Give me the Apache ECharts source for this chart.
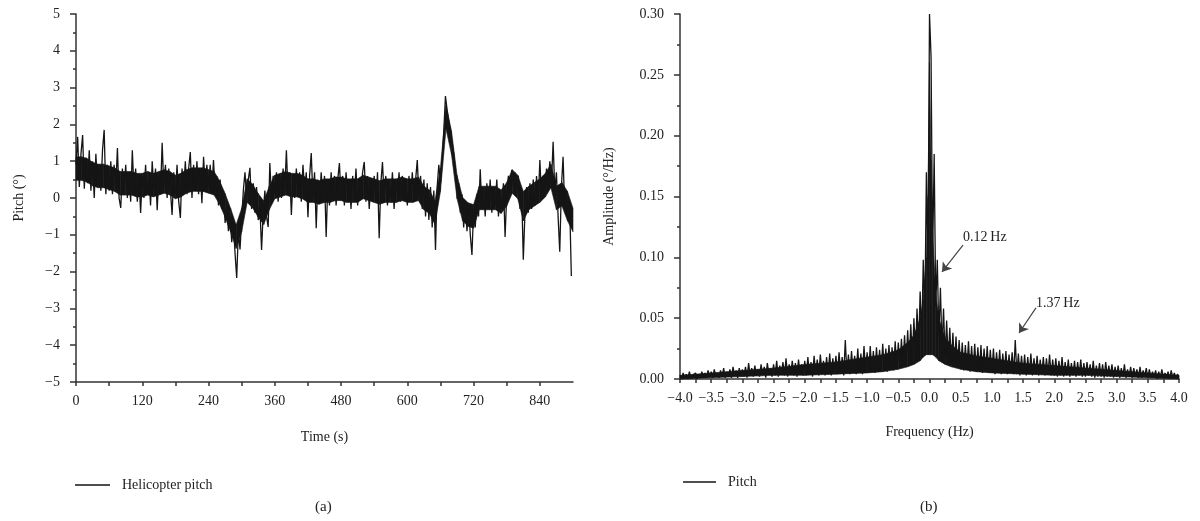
<!DOCTYPE html>
<html>
<head>
<meta charset="utf-8">
<script src="https://cdn.jsdelivr.net/npm/echarts@6/dist/echarts.min.js"></script>
<style>
html,body{margin:0;padding:0;background:#fff;}
#chart{width:1200px;height:521px;}
</style>
</head>
<body>
<div id="chart"></div>
<script>
// ---- Panel (a): helicopter pitch time history, one sample every 3 s ----
const pitchStep = 3; // seconds between samples
const pitchValues = [
  0.9, 1.66, 0.3, 1.2, 1.71, 0.25, 1.1, 0.4, 1.3, 0.2, 1.0, 0.0, 1.2, 0.3, 0.9, 0.2, 1.3, 1.85, 0.1, 0.9,
  0.2, 1.0, 0.1, 0.9, 0.3, 1.36, 0.0, -0.27, 0.8, 0.1, 0.9, 0.0, 0.7, -0.1, 1.30, 0.2, 0.8, -0.1, 0.6, -0.41,
  0.6, 0.0, 0.9, 0.1, 0.7, -0.2, 1.0, 0.2, 0.8, -0.33, 0.6, 0.1, 1.5, 0.3, 0.9, 0.0, 0.8, 0.2, -0.46, 0.7,
  0.1, 0.9, -0.1, -0.54, 0.8, 0.2, 1.0, 0.1, 0.8, 1.25, 0.0, 0.9, 0.2, 1.0, 0.1, 0.8, -0.14, 1.12, 0.3, 0.9,
  0.3, 0.9, 0.2, 1.03, 0.1, 0.6, -0.2, 0.5, -0.3, 0.2, -0.68, -0.2, -0.9, -0.5, -1.2, -0.7, -1.5, -2.17, -0.9, -1.4,
  -0.6, 0.2, 0.7, 0.0, 0.5, 0.82, -0.3, 0.4, -0.4, 0.3, -0.6, -0.2, -1.41, -0.4, 0.2, -0.5, -0.79, 0.95, 0.0, 0.6,
  0.1, 0.7, -0.1, 0.6, 0.0, 0.8, 0.2, 1.30, 0.1, 0.7, -0.46, 0.6, 0.0, 0.8, 0.1, 0.7, -0.1, 0.9, 0.2, 0.7,
  -0.52, 0.6, 1.22, 0.0, 0.7, -0.82, 0.5, -0.1, 0.7, 0.0, 0.6, -1.06, 0.4, -0.2, 0.7, 0.0, 0.6, -0.2, 0.5, 0.95,
  0.0, 0.6, -0.2, 0.7, 0.1, 0.5, -0.3, 0.6, 0.0, 0.8, -0.2, 0.5, 0.1, 0.7, 0.98, -0.1, 0.6, -0.3, 0.5, 0.0,
  0.6, -0.1, 0.7, -1.09, 0.4, 0.98, 0.0, 0.6, -0.2, 0.5, 0.0, 0.7, -0.3, 0.5, 0.1, 0.7, -0.1, 0.6, 0.0, 0.5,
  -0.2, 0.6, 0.0, 0.7, -0.1, 0.5, 1.03, 0.0, 0.6, -0.3, 0.5, -0.5, 0.4, -0.6, 0.3, -0.8, 0.2, -1.41, 0.3, 0.9,
  0.4, 1.03, 1.8, 2.77, 2.4, 2.1, 1.8, 1.5, 1.2, 0.7, 0.2, 0.4, -0.4, 0.1, -0.8, -0.1, -0.9, -0.2, -1.0, -1.55,
  -0.3, -0.8, 0.1, -0.5, 0.78, -0.3, 0.3, -0.5, 0.4, -0.2, 0.5, -0.4, 0.3, -0.2, 0.5, -0.5, 0.2, -0.3, 0.4, -1.06,
  0.1, 0.6, 0.2, 0.76, 0.3, 0.7, 0.1, 0.6, -0.3, 0.2, -1.68, -0.4, 0.3, -0.4, 0.4, -0.3, 0.5, -0.2, 0.6, -0.1,
  1.03, 0.0, 0.6, 0.1, 0.8, 0.3, 1.0, 0.4, 1.53, 0.2, 0.7, -0.5, -1.46, 0.3, 1.12, -0.3, 0.2, -0.6, -0.2, -2.12
];
// dense core of the pitch trace (lower / upper edge of the solid band), every 10 s
const pitchBandStep = 10;
const pitchBandLow = [
  0.48, 0.48, 0.43, 0.33, 0.28, 0.28, 0.23, 0.18, 0.08, 0.08,
  0.08, 0.03, 0.03, 0.08, 0.03, 0.08, 0.13, 0.08, -0.02, 0.03,
  0.13, 0.18, 0.18, 0.18, 0.13, 0.08, -0.17, -0.52, -0.92, -1.37,
  -0.92, -0.12, -0.27, -0.52, -0.72, -0.32, -0.02, 0.03, 0.08, 0.03,
  0.03, -0.02, -0.12, -0.12, -0.17, -0.12, -0.12, -0.07, -0.07, -0.12,
  -0.12, -0.12, -0.02, -0.07, -0.12, -0.17, -0.12, -0.12, -0.12, -0.07,
  -0.12, -0.12, -0.07, -0.32, -0.42, -0.72, 0.18, 1.88, 1.18, -0.02,
  -0.62, -0.77, -0.82, -0.32, -0.32, -0.32, -0.32, -0.42, -0.22, 0.13,
  -0.02, -0.62, -0.32, -0.22, -0.12, 0.03, 0.28, -0.32, -0.22, -0.62, -0.92
];
const pitchBandHigh = [
  1.12, 1.12, 1.07, 0.97, 0.92, 0.92, 0.87, 0.82, 0.72, 0.72,
  0.72, 0.67, 0.67, 0.72, 0.67, 0.72, 0.77, 0.72, 0.62, 0.67,
  0.77, 0.82, 0.82, 0.82, 0.77, 0.72, 0.47, 0.12, -0.28, -0.73,
  -0.28, 0.52, 0.37, 0.12, -0.08, 0.32, 0.62, 0.67, 0.72, 0.67,
  0.67, 0.62, 0.52, 0.52, 0.47, 0.52, 0.52, 0.57, 0.57, 0.52,
  0.52, 0.52, 0.62, 0.57, 0.52, 0.47, 0.52, 0.52, 0.52, 0.57,
  0.52, 0.52, 0.57, 0.32, 0.22, -0.08, 0.82, 2.52, 1.82, 0.62,
  0.02, -0.13, -0.18, 0.32, 0.32, 0.32, 0.32, 0.22, 0.42, 0.77,
  0.62, 0.18, 0.32, 0.42, 0.52, 0.67, 0.92, 0.32, 0.42, 0.18, -0.28
];

// ---- Panel (b): amplitude spectrum, one sample every 0.025 Hz from -4 Hz ----
const freqStart = -4.0;
const freqStep = 0.025;
const ampValues = [
  0.003, 0.000, 0.005, 0.001, 0.004, 0.000, 0.006, 0.001, 0.003, 0.002, 0.005, 0.000, 0.004, 0.001, 0.006, 0.002, 0.005, 0.001, 0.007, 0.002,
  0.006, 0.001, 0.008, 0.002, 0.005, 0.001, 0.007, 0.002, 0.009, 0.001, 0.006, 0.002, 0.008, 0.001, 0.010, 0.003, 0.007, 0.001, 0.009, 0.002,
  0.008, 0.002, 0.010, 0.001, 0.013, 0.003, 0.009, 0.002, 0.011, 0.003, 0.008, 0.002, 0.012, 0.003, 0.010, 0.001, 0.013, 0.004, 0.009, 0.002,
  0.012, 0.003, 0.015, 0.002, 0.011, 0.004, 0.014, 0.003, 0.017, 0.002, 0.012, 0.004, 0.015, 0.003, 0.013, 0.002, 0.016, 0.004, 0.012, 0.003,
  0.015, 0.003, 0.018, 0.004, 0.014, 0.002, 0.019, 0.004, 0.016, 0.003, 0.020, 0.005, 0.015, 0.003, 0.018, 0.004, 0.021, 0.003, 0.017, 0.005,
  0.019, 0.004, 0.022, 0.005, 0.018, 0.003, 0.032, 0.005, 0.020, 0.004, 0.023, 0.006, 0.019, 0.004, 0.025, 0.005, 0.021, 0.004, 0.027, 0.006,
  0.022, 0.005, 0.027, 0.006, 0.023, 0.005, 0.026, 0.007, 0.024, 0.006, 0.029, 0.007, 0.025, 0.006, 0.028, 0.008, 0.026, 0.007, 0.031, 0.008,
  0.030, 0.009, 0.033, 0.010, 0.036, 0.012, 0.040, 0.014, 0.045, 0.016, 0.050, 0.020, 0.058, 0.025, 0.072, 0.032, 0.098, 0.050, 0.170, 0.085,
  0.300, 0.265, 0.100, 0.185, 0.060, 0.098, 0.035, 0.075, 0.025, 0.058, 0.018, 0.048, 0.015, 0.042, 0.012, 0.038, 0.010, 0.035, 0.009, 0.032,
  0.008, 0.030, 0.007, 0.028, 0.008, 0.031, 0.006, 0.027, 0.007, 0.029, 0.006, 0.026, 0.007, 0.028, 0.005, 0.025, 0.006, 0.027, 0.005, 0.024,
  0.005, 0.025, 0.004, 0.022, 0.005, 0.024, 0.004, 0.021, 0.005, 0.023, 0.004, 0.020, 0.005, 0.022, 0.004, 0.032, 0.004, 0.021, 0.003, 0.019,
  0.004, 0.020, 0.003, 0.018, 0.004, 0.021, 0.003, 0.017, 0.004, 0.019, 0.003, 0.016, 0.004, 0.018, 0.003, 0.017, 0.004, 0.020, 0.003, 0.016,
  0.003, 0.017, 0.002, 0.015, 0.003, 0.018, 0.002, 0.014, 0.003, 0.016, 0.002, 0.013, 0.003, 0.015, 0.002, 0.014, 0.003, 0.016, 0.002, 0.013,
  0.002, 0.014, 0.003, 0.012, 0.002, 0.015, 0.001, 0.011, 0.002, 0.013, 0.002, 0.012, 0.001, 0.014, 0.002, 0.011, 0.002, 0.012, 0.001, 0.010,
  0.002, 0.011, 0.001, 0.009, 0.002, 0.012, 0.001, 0.008, 0.002, 0.010, 0.001, 0.009, 0.002, 0.008, 0.001, 0.010, 0.001, 0.007, 0.002, 0.009,
  0.001, 0.008, 0.001, 0.006, 0.002, 0.007, 0.000, 0.006, 0.001, 0.008, 0.001, 0.005, 0.002, 0.006, 0.000, 0.007, 0.001, 0.005, 0.001, 0.004,
  0.002
];
// dense core of the spectrum (lower / upper edge of the solid band)
const ampBandFreqs = [
  -4, -3.5, -3, -2.5, -2, -1.5, -1, -0.75, -0.5, -0.35, -0.25, -0.15, -0.1, -0.05, -0.025,
  0, 0.025, 0.05, 0.1, 0.15, 0.25, 0.35, 0.5, 0.75, 1, 1.5, 2, 2.5, 3, 3.5, 4
];
const ampBandLow = [
  0.000, 0.001, 0.002, 0.003, 0.003, 0.004, 0.005, 0.006, 0.008, 0.010, 0.012, 0.015, 0.018, 0.020, 0.020,
  0.020, 0.020, 0.020, 0.018, 0.015, 0.012, 0.010, 0.008, 0.006, 0.005, 0.004, 0.003, 0.003, 0.002, 0.001, 0.000
];
const ampBandHigh = [
  0.003, 0.005, 0.007, 0.009, 0.012, 0.014, 0.018, 0.020, 0.024, 0.030, 0.036, 0.050, 0.065, 0.100, 0.150,
  0.260, 0.180, 0.120, 0.070, 0.050, 0.034, 0.028, 0.022, 0.019, 0.017, 0.013, 0.011, 0.009, 0.007, 0.005, 0.003
];

// annotation labels and arrows on panel (b) (data coordinates: Hz, °/Hz)
const annoLabels = [
  { text: '0.12\u2009Hz', at: [0.537, 0.1167] },
  { text: '1.37\u2009Hz', at: [1.707, 0.0625] }
];
const annoArrows = [
  { from: [0.537, 0.110], to: [0.20, 0.088] },
  { from: [1.707, 0.0584], to: [1.435, 0.0378] }
];

const pitchData = pitchValues.map((v, i) => [i * pitchStep, v]);
const ampData = ampValues.map((v, i) => [+(freqStart + i * freqStep).toFixed(3), v]);
const pitchBand = pitchBandLow.map((lo, i) => [i * pitchBandStep, lo, pitchBandHigh[i]]);
const ampBand = ampBandFreqs.map((f, i) => [f, ampBandLow[i], ampBandHigh[i]]);

const FONT = 'Liberation Serif';
const TXT = '#222';
const AX = '#333';
const INK = '#151515';
const minus = v => (v < 0 ? '\u2212' + Math.abs(v) : '' + v);

function bandRenderer(band) {
  return function (params, api) {
    const i = params.dataIndex;
    if (i >= band.length - 1) return null;
    const a = band[i], b = band[i + 1];
    return {
      type: 'polygon',
      shape: { points: [
        api.coord([a[0], a[1]]), api.coord([b[0], b[1]]),
        api.coord([b[0], b[2]]), api.coord([a[0], a[2]])
      ] },
      style: { fill: INK, stroke: INK, lineWidth: 0.6 }
    };
  };
}

const axisCommon = {
  axisLine: { show: true, onZero: false, lineStyle: { color: AX, width: 1.5 } },
  splitLine: { show: false },
  minorSplitLine: { show: false },
  axisLabel: { fontFamily: FONT, fontSize: 14, color: TXT },
  nameTextStyle: { fontFamily: FONT, fontSize: 14, color: TXT }
};

const chart = echarts.init(document.getElementById('chart'), null, { renderer: 'canvas' });
chart.setOption({
  animation: false,
  backgroundColor: '#fff',
  textStyle: { fontFamily: FONT },
  grid: [
    { left: 76, top: 14, width: 497, height: 368 },
    { left: 680, top: 14, width: 499, height: 365 }
  ],
  xAxis: [
    Object.assign({}, axisCommon, {
      gridIndex: 0, type: 'value', min: 0, max: 900, interval: 60,
      name: 'Time (s)', nameLocation: 'middle', nameGap: 48,
      axisTick: { show: true, length: 4, lineStyle: { color: AX, width: 1.5 } },
      axisLabel: Object.assign({}, axisCommon.axisLabel, {
        margin: 12, showMaxLabel: false,
        formatter: v => (v % 120 === 0 && v < 900 ? '' + v : '')
      })
    }),
    Object.assign({}, axisCommon, {
      gridIndex: 1, type: 'value', min: -4, max: 4, interval: 0.5,
      name: 'Frequency (Hz)', nameLocation: 'middle', nameGap: 46,
      axisTick: { show: true, length: 4, lineStyle: { color: AX, width: 1.5 } },
      minorTick: { show: true, splitNumber: 2, length: 4, lineStyle: { color: AX, width: 1.5 } },
      axisLabel: Object.assign({}, axisCommon.axisLabel, {
        margin: 12,
        formatter: v => (v < 0 ? '\u2212' + Math.abs(v).toFixed(1) : v.toFixed(1))
      })
    })
  ],
  yAxis: [
    Object.assign({}, axisCommon, {
      gridIndex: 0, type: 'value', min: -5, max: 5, interval: 1,
      name: 'Pitch (°)', nameLocation: 'middle', nameGap: 50,
      axisTick: { show: true, length: 6, lineStyle: { color: AX, width: 1.5 } },
      minorTick: { show: true, splitNumber: 2, length: 3, lineStyle: { color: AX, width: 1.5 } },
      axisLabel: Object.assign({}, axisCommon.axisLabel, { margin: 16, formatter: minus })
    }),
    Object.assign({}, axisCommon, {
      gridIndex: 1, type: 'value', min: 0, max: 0.3, interval: 0.05,
      name: 'Amplitude (°/Hz)', nameLocation: 'middle', nameGap: 64,
      axisTick: { show: true, length: 6, lineStyle: { color: AX, width: 1.5 } },
      minorTick: { show: true, splitNumber: 2, length: 3, lineStyle: { color: AX, width: 1.5 } },
      axisLabel: Object.assign({}, axisCommon.axisLabel, { margin: 16, formatter: v => v.toFixed(2) })
    })
  ],
  legend: [
    {
      data: ['Helicopter pitch'], left: 75, top: 478, padding: 0, icon: 'rect', itemWidth: 35, itemHeight: 1.5,
      itemGap: 10, textStyle: { fontFamily: FONT, fontSize: 14, color: TXT, padding: [0, 0, 0, 7] }
    },
    {
      data: ['Pitch'], left: 683, top: 475, padding: 0, icon: 'rect', itemWidth: 33, itemHeight: 1.5,
      itemGap: 10, textStyle: { fontFamily: FONT, fontSize: 14, color: TXT, padding: [0, 0, 0, 7] }
    }
  ],
  graphic: [
    { type: 'text', left: 315, top: 500, style: { text: '(a)', fontFamily: FONT, fontSize: 15, fill: TXT } },
    { type: 'text', left: 920, top: 500, style: { text: '(b)', fontFamily: FONT, fontSize: 15, fill: TXT } }
  ],
  series: [
    {
      name: 'pitchBand', type: 'custom', xAxisIndex: 0, yAxisIndex: 0, silent: true,
      data: pitchBand, encode: { x: 0, y: [1, 2] }, renderItem: bandRenderer(pitchBand)
    },
    {
      name: 'Helicopter pitch', type: 'line', xAxisIndex: 0, yAxisIndex: 0,
      data: pitchData, showSymbol: false, symbol: 'none',
      lineStyle: { color: INK, width: 1.3 }, itemStyle: { color: INK }
    },
    {
      name: 'ampBand', type: 'custom', xAxisIndex: 1, yAxisIndex: 1, silent: true,
      data: ampBand, encode: { x: 0, y: [1, 2] }, renderItem: bandRenderer(ampBand)
    },
    {
      name: 'Pitch', type: 'line', xAxisIndex: 1, yAxisIndex: 1,
      data: ampData, showSymbol: false, symbol: 'none',
      lineStyle: { color: INK, width: 1.3 }, itemStyle: { color: INK },
      markLine: {
        silent: true, symbol: ['none', 'arrow'], symbolSize: 9,
        label: { show: false },
        lineStyle: { color: '#444', width: 1.2, type: 'solid' },
        itemStyle: { color: '#444' },
        data: annoArrows.map(a => [{ coord: a.from }, { coord: a.to }])
      },
      markPoint: {
        silent: true, symbol: 'circle', symbolSize: 0,
        label: { show: true, position: 'right', distance: 0, formatter: '{b}',
                 fontFamily: FONT, fontSize: 14, color: TXT },
        data: annoLabels.map(a => ({ name: a.text, coord: a.at }))
      }
    }
  ]
});
</script>
</body>
</html>
